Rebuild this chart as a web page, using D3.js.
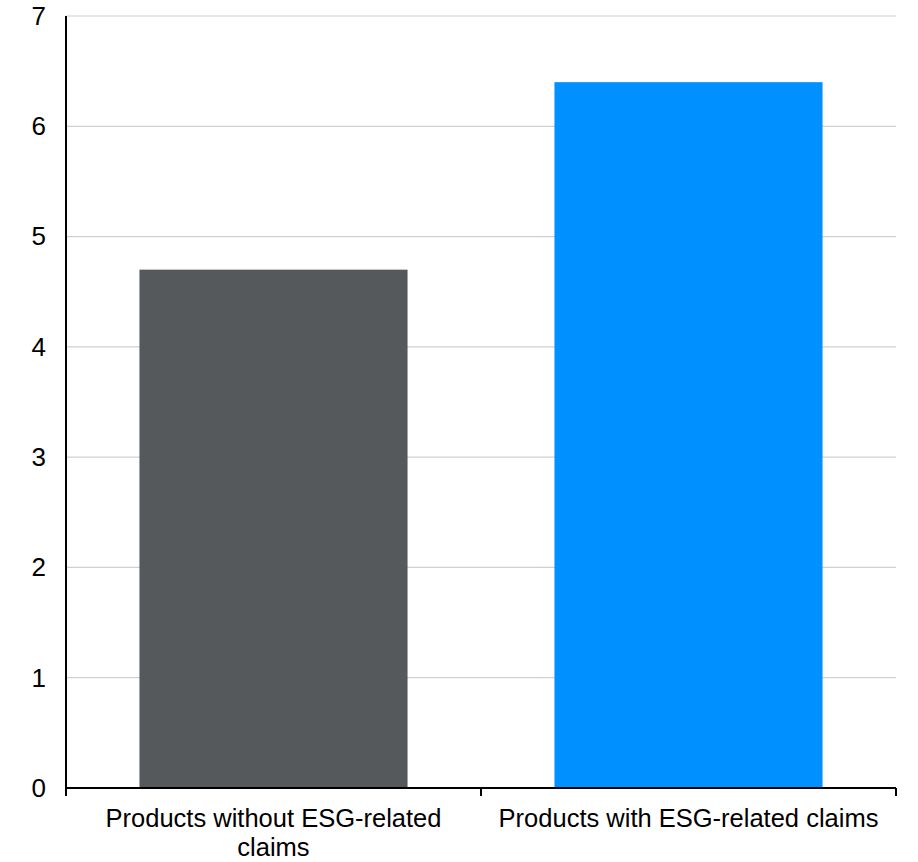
<!DOCTYPE html>
<html><head><meta charset="utf-8">
<script src="https://cdn.jsdelivr.net/npm/d3@7"></script>
<style>body{margin:0;background:#fff}text{font-family:"Liberation Sans",Arial,sans-serif}</style>
</head><body><svg id="c" width="918" height="862"></svg>
<script>
const categories = ["Products without ESG-related claims", "Products with ESG-related claims"];
const labelLines = [["Products without ESG-related", "claims"], ["Products with ESG-related claims"]];
const values = [4.7, 6.4];
const colors = ["#55595c", "#0090ff"];
const yTicks = [0,1,2,3,4,5,6,7];

const svg = d3.select("#c");
const L = 66, R = 896, T = 16, B = 788;
const FS = 26, XFS = 25.5;
const x = d3.scaleBand().domain(categories).range([L, R]).paddingInner(0).paddingOuter(0);
const y = d3.scaleLinear().domain([0, 7]).range([B, T]);
const barFrac = 0.646;

svg.append("g").selectAll("line").data(yTicks.filter(d => d > 0)).join("line")
  .attr("x1", L).attr("x2", R).attr("y1", d => y(d)).attr("y2", d => y(d))
  .attr("stroke", "#d0d0d0").attr("stroke-width", 1.2);

svg.append("g").selectAll("rect").data(categories).join("rect")
  .attr("x", d => x(d) + x.bandwidth() * (1 - barFrac) / 2)
  .attr("width", x.bandwidth() * barFrac)
  .attr("y", (d, i) => y(values[i]))
  .attr("height", (d, i) => B - y(values[i]))
  .attr("fill", (d, i) => colors[i]);

// y axis
const ya = svg.append("g").attr("transform", `translate(${L},0)`)
  .call(d3.axisLeft(y).tickValues(yTicks).tickSize(0).tickPadding(20).tickFormat(d3.format("d")));
ya.attr("font-size", FS);
ya.select(".domain").remove();
ya.selectAll("text").attr("fill", "#000").style("font-size", FS + "px");
svg.append("line").attr("x1", L).attr("x2", L).attr("y1", T).attr("y2", B + 8).attr("stroke", "#000").attr("stroke-width", 2);

// x axis
svg.append("line").attr("x1", L).attr("x2", R).attr("y1", B).attr("y2", B).attr("stroke", "#000").attr("stroke-width", 2);
const bounds = [L].concat(categories.map(c => x(c) + x.bandwidth()));
svg.append("g").selectAll("line").data(bounds).join("line")
  .attr("x1", d => d).attr("x2", d => d).attr("y1", B).attr("y2", B + 8)
  .attr("stroke", "#000").attr("stroke-width", 2);

svg.append("g").selectAll("text").data(categories).join("text")
  .attr("x", d => x(d) + x.bandwidth() / 2)
  .attr("y", 826.5)
  .attr("text-anchor", "middle").style("font-size", XFS + "px").attr("fill", "#000")
  .each(function(d, i) {
    const t = d3.select(this);
    labelLines[i].forEach((ln, j) => t.append("tspan").attr("x", x(d) + x.bandwidth() / 2).attr("dy", j === 0 ? 0 : 29.5).text(ln));
  });
</script></body></html>
